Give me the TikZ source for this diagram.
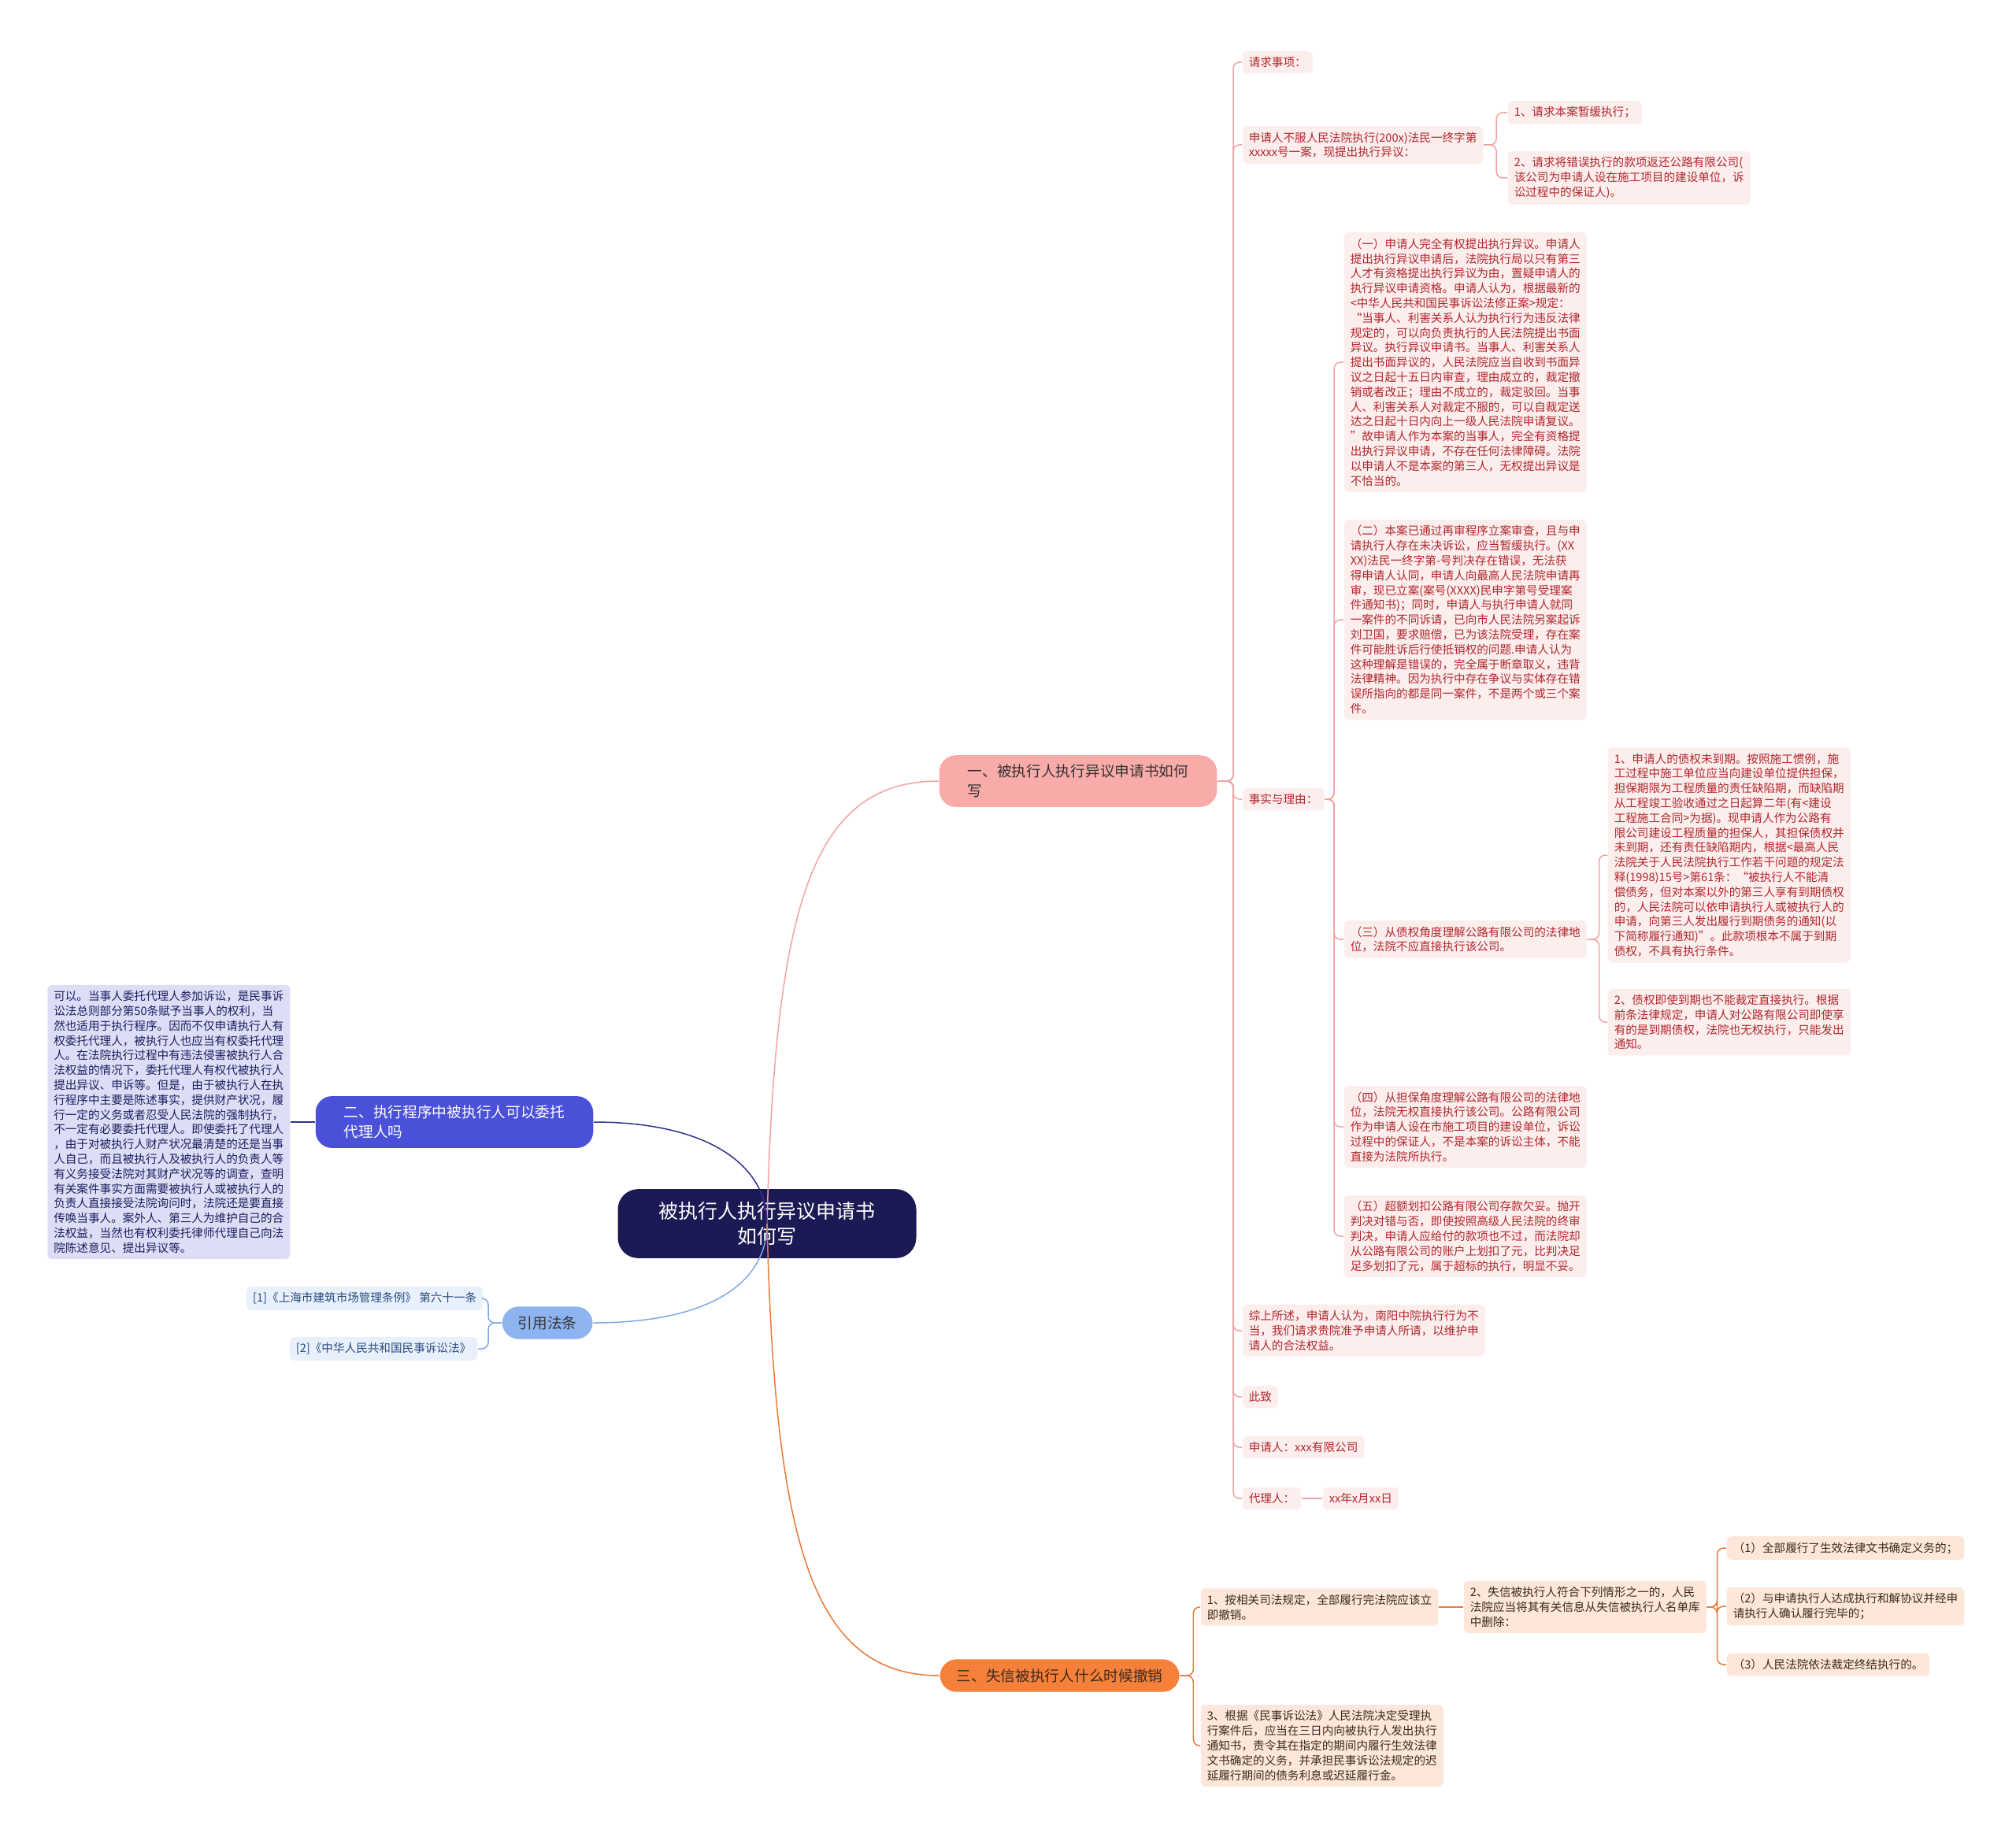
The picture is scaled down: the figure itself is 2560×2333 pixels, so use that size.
\documentclass[tikz,border=0pt]{standalone}
\usepackage{fontspec}
\setmainfont{Noto Sans CJK SC}
\usetikzlibrary{calc}
\definecolor{rootc}{HTML}{1B1A55}
\definecolor{pinkbr}{HTML}{F8ABA9}
\definecolor{pinkln}{HTML}{F0A3A0}
\definecolor{pinkbg}{HTML}{FDEEEE}
\definecolor{pinktx}{HTML}{B0272C}
\definecolor{navybr}{HTML}{4A50D8}
\definecolor{navyln}{HTML}{2E318F}
\definecolor{navybg}{HTML}{DDDEF6}
\definecolor{navytx}{HTML}{1B1E5E}
\definecolor{bluebr}{HTML}{8DB3F0}
\definecolor{blueln}{HTML}{7FA8E6}
\definecolor{bluebg}{HTML}{E8F0FC}
\definecolor{bluetx}{HTML}{2A4C80}
\definecolor{orgbr}{HTML}{F5803A}
\definecolor{orgln}{HTML}{E8793A}
\definecolor{orgbg}{HTML}{FDE7DA}
\definecolor{orgtx}{HTML}{3C2A1E}
\tikzset{
  every path/.style={
    line width=1.5pt
  },
  root/.style={
    fill=rootc, text=white, rounded corners=26pt, align=center,
    inner xsep=52pt, inner ysep=16pt,
    font=\fontsize{25}{32.7}\selectfont
  },
  branch/.style={
    rounded corners=21pt, align=left, inner xsep=36pt, inner ysep=12pt,
    font=\fontsize{18.7}{24.5}\selectfont
  },
  leaf/.style={
    rounded corners=6pt, align=left, inner xsep=8pt, inner ysep=7.5pt,
    font=\fontsize{14.6}{18.8}\selectfont
  },
  pinkleaf/.style={leaf, fill=pinkbg, text=pinktx, anchor=west},
  navyleaf/.style={leaf, fill=navybg, text=navytx, anchor=east},
  blueleaf/.style={leaf, fill=bluebg, text=bluetx, anchor=east},
  orgleaf/.style={leaf, fill=orgbg, text=orgtx, anchor=west}
}

\begin{document}
\begin{tikzpicture}[x=1pt, y=-1pt]
    \useasboundingbox (0,0) rectangle (2560,2333);

    % 中心
    \node[root] (R) at (974,1554) {被执行人执行异议申请书\\如何写};

    % 分支
    \node[branch, fill=pinkbr, text=black!80, anchor=west] (A) at (1192,992) {一、被执行人执行异议申请书如何\\写};
    \node[branch, fill=navybr, text=white, anchor=east] (B) at (754,1425) {二、执行程序中被执行人可以委托\\代理人吗};
    \node[branch, fill=bluebr, text=black!80, anchor=west, inner xsep=20pt] (C) at (637,1680) {引用法条};
    \node[branch, fill=orgbr, text=orgtx, anchor=west, inner xsep=21pt] (D) at (1193,2128) {三、失信被执行人什么时候撤销};

    % 一
    \node[pinkleaf] (A1) at (1577,79) {请求事项：};
    \node[pinkleaf] (A2) at (1577,184) {申请人不服人民法院执行(200x)法民一终字第\\xxxxx号一案，现提出执行异议：};
    \node[pinkleaf] (A21) at (1914,143) {1、请求本案暂缓执行；};
    \node[pinkleaf] (A22) at (1914,226) {2、请求将错误执行的款项返还公路有限公司(\\该公司为申请人设在施工项目的建设单位，诉\\讼过程中的保证人)。};
    \node[pinkleaf] (A3) at (1577,1015) {事实与理由：};
    \node[pinkleaf] (A31) at (1706,460) {（一）申请人完全有权提出执行异议。申请人\\提出执行异议申请后，法院执行局以只有第三\\人才有资格提出执行异议为由，置疑申请人的\\执行异议申请资格。申请人认为，根据最新的\\<中华人民共和国民事诉讼法修正案>规定：\\“当事人、利害关系人认为执行行为违反法律\\规定的，可以向负责执行的人民法院提出书面\\异议。执行异议申请书。当事人、利害关系人\\提出书面异议的，人民法院应当自收到书面异\\议之日起十五日内审查，理由成立的，裁定撤\\销或者改正；理由不成立的，裁定驳回。当事\\人、利害关系人对裁定不服的，可以自裁定送\\达之日起十日内向上一级人民法院申请复议。\\”故申请人作为本案的当事人，完全有资格提\\出执行异议申请，不存在任何法律障碍。法院\\以申请人不是本案的第三人，无权提出异议是\\不恰当的。};
    \node[pinkleaf] (A32) at (1706,787) {（二）本案已通过再审程序立案审查，且与申\\请执行人存在未决诉讼，应当暂缓执行。(XX\\XX)法民一终字第-号判决存在错误，无法获\\得申请人认同，申请人向最高人民法院申请再\\审，现已立案(案号(XXXX)民申字第号受理案\\件通知书)；同时，申请人与执行申请人就同\\一案件的不同诉请，已向市人民法院另案起诉\\刘卫国，要求赔偿，已为该法院受理，存在案\\件可能胜诉后行使抵销权的问题.申请人认为\\这种理解是错误的，完全属于断章取义，违背\\法律精神。因为执行中存在争议与实体存在错\\误所指向的都是同一案件，不是两个或三个案\\件。};
    \node[pinkleaf] (A33) at (1706,1193) {（三）从债权角度理解公路有限公司的法律地\\位，法院不应直接执行该公司。};
    \node[pinkleaf] (A331) at (2041,1086) {1、申请人的债权未到期。按照施工惯例，施\\工过程中施工单位应当向建设单位提供担保，\\担保期限为工程质量的责任缺陷期，而缺陷期\\从工程竣工验收通过之日起算二年(有<建设\\工程施工合同>为据)。现申请人作为公路有\\限公司建设工程质量的担保人，其担保债权并\\未到期，还有责任缺陷期内，根据<最高人民\\法院关于人民法院执行工作若干问题的规定法\\释(1998)15号>第61条：“被执行人不能清\\偿债务，但对本案以外的第三人享有到期债权\\的，人民法院可以依申请执行人或被执行人的\\申请，向第三人发出履行到期债务的通知(以\\下简称履行通知)”。此款项根本不属于到期\\债权，不具有执行条件。};
    \node[pinkleaf] (A332) at (2041,1298) {2、债权即使到期也不能裁定直接执行。根据\\前条法律规定，申请人对公路有限公司即使享\\有的是到期债权，法院也无权执行，只能发出\\通知。};
    \node[pinkleaf] (A34) at (1706,1431) {（四）从担保角度理解公路有限公司的法律地\\位，法院无权直接执行该公司。公路有限公司\\作为申请人设在市施工项目的建设单位，诉讼\\过程中的保证人，不是本案的诉讼主体，不能\\直接为法院所执行。};
    \node[pinkleaf] (A35) at (1706,1570) {（五）超额划扣公路有限公司存款欠妥。抛开\\判决对错与否，即使按照高级人民法院的终审\\判决，申请人应给付的款项也不过，而法院却\\从公路有限公司的账户上划扣了元，比判决足\\足多划扣了元，属于超标的执行，明显不妥。};
    \node[pinkleaf] (A4) at (1577,1690) {综上所述，申请人认为，南阳中院执行行为不\\当，我们请求贵院准予申请人所请，以维护申\\请人的合法权益。};
    \node[pinkleaf] (A5) at (1577,1774) {此致};
    \node[pinkleaf] (A6) at (1577,1838) {申请人：xxx有限公司};
    \node[pinkleaf] (A7) at (1577,1903) {代理人：};
    \node[pinkleaf] (A71) at (1679,1903) {xx年x月xx日};

    % 二
    \node[navyleaf] (B1) at (369,1425) {可以。当事人委托代理人参加诉讼，是民事诉\\讼法总则部分第50条赋予当事人的权利，当\\然也适用于执行程序。因而不仅申请执行人有\\权委托代理人，被执行人也应当有权委托代理\\人。在法院执行过程中有违法侵害被执行人合\\法权益的情况下，委托代理人有权代被执行人\\提出异议、申诉等。但是，由于被执行人在执\\行程序中主要是陈述事实，提供财产状况，履\\行一定的义务或者忍受人民法院的强制执行，\\不一定有必要委托代理人。即使委托了代理人\\，由于对被执行人财产状况最清楚的还是当事\\人自己，而且被执行人及被执行人的负责人等\\有义务接受法院对其财产状况等的调查，查明\\有关案件事实方面需要被执行人或被执行人的\\负责人直接接受法院询问时，法院还是要直接\\传唤当事人。案外人、第三人为维护自己的合\\法权益，当然也有权利委托律师代理自己向法\\院陈述意见、提出异议等。};

    % 引用法条
    \node[blueleaf] (C1) at (614,1649) {[1]《上海市建筑市场管理条例》 第六十一条};
    \node[blueleaf] (C2) at (607,1713) {[2]《中华人民共和国民事诉讼法》};

    % 三
    \node[orgleaf] (D1) at (1524,2041) {1、按相关司法规定，全部履行完法院应该立\\即撤销。};
    \node[orgleaf] (D11) at (1858,2041) {2、失信被执行人符合下列情形之一的，人民\\法院应当将其有关信息从失信被执行人名单库\\中删除：};
    \node[orgleaf] (D111) at (2192,1966) {（1）全部履行了生效法律文书确定义务的；};
    \node[orgleaf] (D112) at (2192,2040) {（2）与申请执行人达成执行和解协议并经申\\请执行人确认履行完毕的；};
    \node[orgleaf] (D113) at (2192,2114) {（3）人民法院依法裁定终结执行的。};
    \node[orgleaf] (D2) at (1524,2217) {3、根据《民事诉讼法》人民法院决定受理执\\行案件后，应当在三日内向被执行人发出执行\\通知书，责令其在指定的期间内履行生效法律\\文书确定的义务，并承担民事诉讼法规定的迟\\延履行期间的债务利息或迟延履行金。};

    % 中心的连线
    \draw[pinkln] (R.center) .. controls (984,1150) and (1030,992) .. (A.west);
    \draw[navyln] (B.east) .. controls (900,1425) and (974,1480) .. (R.center);
    \draw[blueln] (C.east) .. controls (900,1680) and (974,1630) .. (R.center);
    \draw[orgln] (R.center) .. controls (984,1958) and (1030,2128) .. (D.west);

    % 一的连线
    \draw[pinkln, rounded corners=8pt] (A.east) -- ([xshift=20pt]A.east) |- (A1.west);
    \draw[pinkln, rounded corners=8pt] (A.east) -- ([xshift=20pt]A.east) |- (A2.west);
    \draw[pinkln, rounded corners=8pt] (A.east) -- ([xshift=20pt]A.east) |- (A3.west);
    \draw[pinkln, rounded corners=8pt] (A.east) -- ([xshift=20pt]A.east) |- (A4.west);
    \draw[pinkln, rounded corners=8pt] (A.east) -- ([xshift=20pt]A.east) |- (A5.west);
    \draw[pinkln, rounded corners=8pt] (A.east) -- ([xshift=20pt]A.east) |- (A6.west);
    \draw[pinkln, rounded corners=8pt] (A.east) -- ([xshift=20pt]A.east) |- (A7.west);
    \draw[pinkln, rounded corners=8pt] (A2.east) -- ([xshift=16pt]A2.east) |- (A21.west);
    \draw[pinkln, rounded corners=8pt] (A2.east) -- ([xshift=16pt]A2.east) |- (A22.west);
    \draw[pinkln, rounded corners=8pt] (A3.east) -- ([xshift=12pt]A3.east) |- (A31.west);
    \draw[pinkln, rounded corners=8pt] (A3.east) -- ([xshift=12pt]A3.east) |- (A32.west);
    \draw[pinkln, rounded corners=8pt] (A3.east) -- ([xshift=12pt]A3.east) |- (A33.west);
    \draw[pinkln, rounded corners=8pt] (A3.east) -- ([xshift=12pt]A3.east) |- (A34.west);
    \draw[pinkln, rounded corners=8pt] (A3.east) -- ([xshift=12pt]A3.east) |- (A35.west);
    \draw[pinkln, rounded corners=8pt] (A33.east) -- ([xshift=15pt]A33.east) |- (A331.west);
    \draw[pinkln, rounded corners=8pt] (A33.east) -- ([xshift=15pt]A33.east) |- (A332.west);
    \draw[pinkln] (A7.east) -- (A71.west);

    % 二和引用法条的连线
    \draw[navyln] (B.west) -- (B1.east);
    \draw[blueln, rounded corners=8pt] (C.west) -- ([xshift=-17pt]C.west) |- (C1.east);
    \draw[blueln, rounded corners=8pt] (C.west) -- ([xshift=-17pt]C.west) |- (C2.east);

    % 三的连线
    \draw[orgln, rounded corners=8pt] (D.east) -- ([xshift=17pt]D.east) |- (D1.west);
    \draw[orgln, rounded corners=8pt] (D.east) -- ([xshift=17pt]D.east) |- (D2.west);
    \draw[orgln] (D1.east) -- (D11.west);
    \draw[orgln, rounded corners=8pt] (D11.east) -- ([xshift=13pt]D11.east) |- (D111.west);
    \draw[orgln, rounded corners=8pt] (D11.east) -- ([xshift=13pt]D11.east) |- (D112.west);
    \draw[orgln, rounded corners=8pt] (D11.east) -- ([xshift=13pt]D11.east) |- (D113.west);
\end{tikzpicture}
\end{document}
